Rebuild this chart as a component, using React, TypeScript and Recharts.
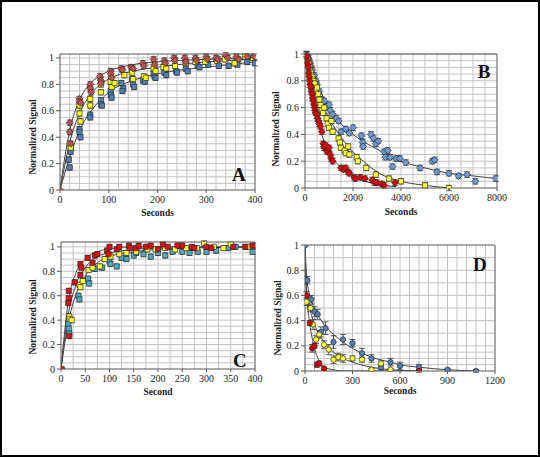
import {
  ComposedChart,
  Scatter,
  Line,
  XAxis,
  YAxis,
  ErrorBar,
  ReferenceLine,
  ReferenceDot,
} from "recharts";

type Pt = [number, number, number];
type Fp = [number, number];

// ---- Panel A (recovery, 0-400 s) ----
const aRed: Pt[] = [
  [0, 0, 0], [20, 0.51, 0.02], [20, 0.44, 0.02], [22, 0.35, 0.02], [40, 0.69, 0.02], [40, 0.67, 0.02],
  [42, 0.66, 0.02], [62, 0.8, 0.02], [62, 0.77, 0.02], [64, 0.74, 0.02], [82, 0.86, 0.02], [84, 0.83, 0.02],
  [84, 0.81, 0.02], [104, 0.9, 0.02], [104, 0.88, 0.02], [106, 0.85, 0.02], [126, 0.92, 0.02], [128, 0.91, 0.02],
  [146, 0.93, 0.02], [150, 0.92, 0.02], [170, 0.96, 0.02], [172, 0.94, 0.02], [192, 0.99, 0.02], [194, 0.95, 0.02],
  [214, 0.98, 0.02], [216, 0.96, 0.02], [234, 1.0, 0.02], [236, 0.98, 0.02], [256, 1.0, 0.02], [258, 0.97, 0.02],
  [278, 1.0, 0.02], [280, 0.98, 0.02], [300, 1.01, 0.02], [302, 0.99, 0.02], [320, 1.0, 0.02], [324, 0.99, 0.02],
  [340, 1.02, 0.02], [344, 1.0, 0.02], [362, 1.01, 0.02], [366, 0.99, 0.02], [384, 1.01, 0.02], [398, 1.01, 0.02],
];
const aYellow: Pt[] = [
  [20, 0.35, 0.02], [22, 0.32, 0.02], [40, 0.64, 0.02], [40, 0.58, 0.02], [42, 0.52, 0.02], [62, 0.69, 0.02],
  [62, 0.64, 0.02], [84, 0.8, 0.02], [84, 0.74, 0.02], [104, 0.82, 0.02], [106, 0.78, 0.02], [112, 0.81, 0.02],
  [132, 0.87, 0.02], [148, 0.89, 0.02], [150, 0.84, 0.02], [172, 0.86, 0.02], [176, 0.85, 0.02], [192, 0.92, 0.02],
  [196, 0.9, 0.02], [212, 0.93, 0.02], [218, 0.92, 0.02], [236, 0.94, 0.02], [258, 0.96, 0.02], [278, 0.97, 0.02],
  [298, 0.97, 0.02], [322, 0.98, 0.02], [338, 0.99, 0.02], [358, 0.96, 0.02], [380, 1.01, 0.02], [396, 1.0, 0.02],
];
const aBlue: Pt[] = [
  [18, 0.23, 0.02], [20, 0.17, 0.02], [22, 0.29, 0.02], [40, 0.46, 0.02], [40, 0.44, 0.02], [42, 0.4, 0.02],
  [62, 0.57, 0.02], [62, 0.55, 0.02], [84, 0.68, 0.02], [84, 0.65, 0.02], [86, 0.64, 0.02], [104, 0.75, 0.02],
  [104, 0.72, 0.02], [106, 0.7, 0.02], [126, 0.81, 0.02], [130, 0.77, 0.02], [128, 0.75, 0.02], [148, 0.84, 0.02],
  [150, 0.8, 0.02], [152, 0.78, 0.02], [170, 0.83, 0.02], [174, 0.82, 0.02], [192, 0.88, 0.02], [194, 0.86, 0.02],
  [196, 0.85, 0.02], [214, 0.89, 0.02], [218, 0.87, 0.02], [238, 0.9, 0.02], [240, 0.89, 0.02], [258, 0.92, 0.02],
  [262, 0.9, 0.02], [282, 0.94, 0.02], [286, 0.93, 0.02], [304, 0.95, 0.02], [326, 0.94, 0.02], [346, 0.94, 0.02],
  [364, 0.95, 0.02], [384, 0.97, 0.02], [400, 0.96, 0.02],
];
const aFitRed: Fp[] = [[0, 0], [10, 0.25], [20, 0.45], [40, 0.68], [60, 0.8], [80, 0.86], [100, 0.9], [150, 0.95], [200, 0.97], [300, 0.99], [400, 1.0]];
const aFitYellow: Fp[] = [[0, 0], [10, 0.19], [20, 0.36], [40, 0.58], [60, 0.71], [80, 0.79], [100, 0.84], [150, 0.9], [200, 0.93], [300, 0.97], [400, 0.99]];
const aFitBlue: Fp[] = [[0, 0], [10, 0.13], [20, 0.25], [40, 0.45], [60, 0.58], [80, 0.67], [100, 0.74], [150, 0.83], [200, 0.88], [300, 0.93], [400, 0.97]];

// ---- Panel B (decay, 0-8000 s) ----
const bRed: Pt[] = [
  [50, 1.0, 0.02], [80, 0.98, 0.02], [100, 0.95, 0.02], [120, 0.92, 0.02], [150, 0.9, 0.02], [160, 0.86, 0.02],
  [180, 0.83, 0.02], [200, 0.8, 0.02], [220, 0.77, 0.02], [250, 0.75, 0.02], [270, 0.72, 0.02], [300, 0.7, 0.02],
  [320, 0.67, 0.02], [350, 0.65, 0.02], [380, 0.62, 0.02], [400, 0.6, 0.02], [420, 0.58, 0.02], [450, 0.56, 0.02],
  [500, 0.55, 0.02], [520, 0.52, 0.02], [560, 0.5, 0.02], [600, 0.48, 0.02], [640, 0.46, 0.02], [700, 0.42, 0.02],
  [760, 0.33, 0.02], [800, 0.3, 0.02], [850, 0.32, 0.02], [900, 0.28, 0.02], [950, 0.27, 0.02], [1000, 0.3, 0.02],
  [1050, 0.25, 0.02], [1100, 0.22, 0.02], [1150, 0.2, 0.02], [1500, 0.15, 0.02], [1600, 0.14, 0.02], [1700, 0.15, 0.02],
  [1800, 0.12, 0.02], [1850, 0.11, 0.02], [2050, 0.08, 0.02], [2100, 0.07, 0.02], [2300, 0.08, 0.02], [2500, 0.07, 0.02],
  [2800, 0.06, 0.02], [2900, 0.04, 0.02], [3000, 0.04, 0.02], [3200, 0.03, 0.02], [3300, 0.02, 0.02], [3750, 0.04, 0.02],
];
const bYellow: Pt[] = [
  [60, 0.99, 0.02], [100, 0.96, 0.02], [150, 0.93, 0.02], [200, 0.9, 0.02], [250, 0.86, 0.02], [300, 0.83, 0.02],
  [350, 0.8, 0.02], [400, 0.78, 0.02], [450, 0.73, 0.02], [500, 0.75, 0.02], [550, 0.7, 0.02], [600, 0.66, 0.02],
  [650, 0.62, 0.02], [700, 0.58, 0.02], [750, 0.56, 0.02], [800, 0.6, 0.02], [900, 0.52, 0.02], [950, 0.48, 0.02],
  [1000, 0.45, 0.02], [1100, 0.5, 0.02], [1150, 0.42, 0.02], [1400, 0.37, 0.02], [1450, 0.34, 0.02], [1500, 0.3, 0.02],
  [1650, 0.28, 0.02], [1700, 0.26, 0.02], [1800, 0.31, 0.02], [1850, 0.25, 0.02], [2150, 0.23, 0.02], [2200, 0.2, 0.02],
  [2550, 0.15, 0.02], [2950, 0.1, 0.02], [3500, 0.07, 0.02], [4000, 0.05, 0.02], [5000, 0.02, 0.02], [6000, 0.0, 0.02],
];
const bBlue: Pt[] = [
  [80, 1.0, 0.02], [150, 0.97, 0.02], [200, 0.94, 0.02], [250, 0.91, 0.02], [300, 0.88, 0.02], [380, 0.84, 0.02],
  [450, 0.8, 0.02], [500, 0.77, 0.02], [600, 0.72, 0.02], [700, 0.66, 0.02], [800, 0.65, 0.02], [900, 0.6, 0.02],
  [1000, 0.62, 0.02], [1050, 0.58, 0.02], [1150, 0.55, 0.02], [1300, 0.52, 0.02], [1400, 0.5, 0.02], [1500, 0.42, 0.02],
  [1700, 0.44, 0.02], [1850, 0.41, 0.02], [2000, 0.45, 0.02], [2350, 0.39, 0.02], [2400, 0.34, 0.02], [2420, 0.31, 0.02],
  [2750, 0.4, 0.02], [2850, 0.37, 0.02], [2950, 0.33, 0.02], [3050, 0.35, 0.02], [3300, 0.27, 0.02], [3350, 0.23, 0.02],
  [3450, 0.28, 0.02], [3550, 0.23, 0.02], [3650, 0.16, 0.02], [3800, 0.22, 0.02], [3950, 0.22, 0.02], [4200, 0.19, 0.02],
  [4800, 0.15, 0.02], [5300, 0.2, 0.02], [5400, 0.21, 0.02], [5500, 0.12, 0.02], [6000, 0.11, 0.02], [6400, 0.09, 0.02],
  [6750, 0.1, 0.02], [7100, 0.05, 0.02], [7950, 0.07, 0.02],
];
const bFitRed: Fp[] = [[0, 1], [250, 0.72], [500, 0.52], [750, 0.37], [1000, 0.27], [1500, 0.15], [2000, 0.09], [2500, 0.05], [3000, 0.03], [3500, 0.015], [3800, 0.01]];
const bFitYellow: Fp[] = [[0, 1], [500, 0.72], [1000, 0.52], [1500, 0.38], [2000, 0.27], [2500, 0.19], [3000, 0.12], [4000, 0.05], [5000, 0.02], [6000, 0]];
const bFitBlue: Fp[] = [[0, 1], [500, 0.78], [1000, 0.6], [1500, 0.48], [2000, 0.4], [3000, 0.29], [4000, 0.2], [5000, 0.15], [6000, 0.11], [7000, 0.09], [8000, 0.07]];

// ---- Panel C (recovery, 0-400 s) ----
const cRed: Pt[] = [
  [2, 0, 0], [16, 0.64, 0.02], [16, 0.58, 0.02], [17, 0.27, 0.02], [15, 0.54, 0.02], [28, 0.71, 0.02],
  [40, 0.86, 0.02], [42, 0.83, 0.02], [40, 0.77, 0.02], [55, 0.91, 0.02], [65, 0.87, 0.02], [70, 0.93, 0.02],
  [75, 0.94, 0.02], [95, 0.97, 0.02], [98, 0.94, 0.02], [100, 1.0, 0.02], [115, 0.98, 0.02], [120, 1.0, 0.02],
  [140, 1.01, 0.02], [142, 0.99, 0.02], [155, 0.99, 0.02], [160, 1.01, 0.02], [175, 1.0, 0.02], [185, 1.01, 0.02],
  [200, 0.98, 0.02], [210, 1.02, 0.02], [220, 1.0, 0.02], [240, 1.01, 0.02], [250, 1.01, 0.02], [270, 1.0, 0.02],
  [275, 0.99, 0.02], [300, 1.0, 0.02], [310, 0.99, 0.02], [355, 1.0, 0.02], [380, 1.0, 0.02], [395, 1.01, 0.02],
];
const cYellow: Pt[] = [
  [17, 0.43, 0.02], [18, 0.41, 0.02], [22, 0.4, 0.02], [38, 0.69, 0.02], [40, 0.67, 0.02], [45, 0.72, 0.02],
  [57, 0.81, 0.02], [65, 0.83, 0.02], [80, 0.84, 0.02], [90, 0.9, 0.02], [102, 0.92, 0.02], [120, 0.94, 0.02],
  [135, 0.95, 0.02], [155, 0.96, 0.02], [178, 0.98, 0.02], [195, 0.98, 0.02], [215, 0.99, 0.02], [235, 0.98, 0.02],
  [258, 0.99, 0.02], [280, 0.99, 0.02], [295, 1.03, 0.02], [315, 1.0, 0.02], [335, 0.99, 0.02], [350, 1.02, 0.02],
  [385, 1.0, 0.02],
];
const cBlue: Pt[] = [
  [15, 0.37, 0.02], [16, 0.33, 0.02], [17, 0.29, 0.02], [36, 0.6, 0.02], [38, 0.57, 0.02], [56, 0.74, 0.02],
  [58, 0.7, 0.02], [70, 0.82, 0.02], [85, 0.83, 0.02], [100, 0.88, 0.02], [102, 0.86, 0.02], [115, 0.84, 0.02],
  [125, 0.91, 0.02], [135, 0.9, 0.02], [150, 0.93, 0.02], [155, 0.95, 0.02], [170, 0.94, 0.02], [185, 0.92, 0.02],
  [200, 0.95, 0.02], [215, 0.93, 0.02], [230, 0.96, 0.02], [250, 0.96, 0.02], [265, 0.95, 0.02], [282, 0.96, 0.02],
  [300, 0.96, 0.02], [320, 0.97, 0.02], [345, 0.99, 0.02], [360, 1.0, 0.02], [395, 0.96, 0.02],
];
const cFitRed: Fp[] = [[0, 0], [15, 0.55], [30, 0.78], [50, 0.9], [75, 0.96], [100, 0.985], [150, 1.0], [400, 1.0]];
const cFitYellow: Fp[] = [[0, 0], [15, 0.45], [30, 0.68], [50, 0.83], [75, 0.92], [100, 0.95], [150, 0.98], [200, 0.99], [400, 1.0]];
const cFitBlue: Fp[] = [[0, 0], [15, 0.38], [30, 0.6], [50, 0.76], [75, 0.87], [100, 0.92], [150, 0.96], [200, 0.98], [400, 1.0]];

// ---- Panel D (decay, 0-1200 s) ----
const dBlue: Pt[] = [
  [2, 1.0, 0], [15, 0.72, 0.03], [40, 0.57, 0.03], [60, 0.47, 0.04], [80, 0.45, 0.04], [100, 0.31, 0.04],
  [130, 0.34, 0.05], [180, 0.23, 0.05], [240, 0.25, 0.04], [300, 0.22, 0.03], [360, 0.14, 0.04], [420, 0.1, 0.03],
  [480, 0.03, 0.02], [540, 0.07, 0.03], [600, 0.04, 0.03], [720, 0.03, 0.02], [900, 0.01, 0.01], [1080, 0.0, 0.01],
];
const dYellow: Pt[] = [
  [10, 0.55, 0.03], [35, 0.5, 0.03], [50, 0.37, 0.04], [70, 0.25, 0.03], [90, 0.29, 0.03], [120, 0.21, 0.03],
  [150, 0.17, 0.04], [180, 0.09, 0.03], [210, 0.11, 0.03], [240, 0.1, 0.03], [300, 0.1, 0.02], [360, 0.09, 0.02],
  [420, 0.01, 0.01], [480, 0.06, 0.02], [540, 0.01, 0.01], [720, 0.0, 0.01],
];
const dRed: Pt[] = [
  [10, 0.6, 0.03], [30, 0.38, 0.02], [45, 0.18, 0.03], [60, 0.2, 0.02], [75, 0.05, 0.02], [90, 0.06, 0.02],
  [120, 0.02, 0.01], [720, 0.0, 0],
];
const dFitBlue: Fp[] = [[0, 1], [10, 0.75], [30, 0.6], [60, 0.5], [120, 0.37], [180, 0.29], [240, 0.23], [300, 0.18], [420, 0.11], [540, 0.07], [600, 0.05], [720, 0.03], [900, 0.01], [1080, 0]];
const dFitYellow: Fp[] = [[0, 1], [10, 0.65], [30, 0.5], [60, 0.37], [120, 0.23], [180, 0.15], [240, 0.1], [300, 0.07], [420, 0.03], [540, 0.01], [720, 0]];
const dFitRed: Fp[] = [[0, 1], [10, 0.62], [30, 0.38], [60, 0.18], [90, 0.08], [120, 0.03], [180, 0.01], [240, 0], [720, 0]];

// ---- ticks and grid ----
const yTicks = [0, 0.2, 0.4, 0.6, 0.8, 1];
const xTicksA = [0, 100, 200, 300, 400];
const xTicksB = [0, 2000, 4000, 6000, 8000];
const xTicksC = [0, 50, 100, 150, 200, 250, 300, 350, 400];
const xTicksD = [0, 300, 600, 900, 1200];
const xGridA = [20, 40, 60, 80, 100, 120, 140, 160, 180, 200, 220, 240, 260, 280, 300, 320, 340, 360, 380];
const xGridB = [500, 1000, 1500, 2000, 2500, 3000, 3500, 4000, 4500, 5000, 5500, 6000, 6500, 7000, 7500];
const xGridC = [25, 50, 75, 100, 125, 150, 175, 200, 225, 250, 275, 300, 325, 350, 375];
const xGridD = [60, 120, 180, 240, 300, 360, 420, 480, 540, 600, 660, 720, 780, 840, 900, 960, 1020, 1080, 1140];
const yGrid = [0.05, 0.1, 0.15, 0.2, 0.25, 0.3, 0.35, 0.4, 0.45, 0.5, 0.55, 0.6, 0.65, 0.7, 0.75, 0.8, 0.85, 0.9, 0.95, 1];
const yGridD = [0.05, 0.1, 0.15, 0.2, 0.3, 0.4, 0.5, 0.6, 0.7, 0.8, 0.9];

const serif = "Liberation Serif";

const toPts = (a: Pt[]) => a.map(([x, y, err]) => ({ x, y, err }));
const toFit = (a: Fp[]) => a.map(([x, y]) => ({ x, y }));

// tick text drawn by hand so the serif face is kept
const XTick = (props: any) => (
  <text x={props.x} y={props.y} dy="0.75em" textAnchor="middle" fontFamily={serif} fontSize={10} fill="#222">
    {props.payload.value}
  </text>
);
const YTick = (props: any) => (
  <text x={props.x} y={props.y} dy="0.35em" textAnchor="end" fontFamily={serif} fontSize={10} fill="#222">
    {props.payload.value}
  </text>
);

const marker = (kind: string, fill: string) => (props: any) => {
  const { cx, cy } = props;
  if (cx == null || cy == null) return <g />;
  if (kind === "diamond")
    return (
      <polygon
        points={`${cx},${cy - 3.5} ${cx + 3.5},${cy} ${cx},${cy + 3.5} ${cx - 3.5},${cy}`}
        fill={fill}
        stroke="#2a2a2a"
        strokeWidth={0.7}
      />
    );
  if (kind === "square")
    return <rect x={cx - 2.6} y={cy - 2.6} width={5.2} height={5.2} rx={1} fill={fill} stroke="#2a2a2a" strokeWidth={0.7} />;
  return <circle cx={cx} cy={cy} r={2.7} fill={fill} stroke="#2a2a2a" strokeWidth={0.7} />;
};

interface Series {
  data: Pt[];
  fill: string;
  kind: string;
}

interface PanelProps {
  left: number;
  top: number;
  w: number;
  h: number;
  xMax: number;
  yMax: number;
  xTicks: number[];
  xGrid: number[];
  yGrid: number[];
  series: Series[];
  fits: Fp[][];
  letter: string;
  letterAt: [number, number];
  xLabel: string;
  xLabelY: number;
  yLabelX: number;
  yLabelY: number;
}

function Panel(p: PanelProps) {
  const ox = p.left - 45;
  const oy = p.top - 10;
  return (
    <div style={{ position: "absolute", left: ox, top: oy, fontFamily: serif }}>
      <ComposedChart width={45 + p.w + 14} height={10 + p.h + 32} margin={{ top: 10, right: 14, left: 0, bottom: 0 }}>
        <XAxis
          type="number"
          dataKey="x"
          domain={[0, p.xMax]}
          ticks={p.xTicks}
          interval={0}
          allowDataOverflow
          height={32}
          tickSize={3}
          tick={XTick}
          axisLine={{ stroke: "#555" }}
          tickLine={{ stroke: "#555" }}
          label={{
            value: p.xLabel,
            content: () => (
              <text
                x={p.left + p.w / 2 - ox}
                y={p.xLabelY - oy}
                textAnchor="middle"
                dominantBaseline="central"
                fontFamily={serif}
                fontWeight="bold"
                fontSize={9.5}
                fill="#222"
              >
                {p.xLabel}
              </text>
            ),
          }}
        />
        <YAxis
          type="number"
          dataKey="y"
          domain={[0, p.yMax]}
          ticks={yTicks}
          interval={0}
          allowDataOverflow
          width={45}
          tickSize={4}
          tick={YTick}
          axisLine={{ stroke: "#555" }}
          tickLine={{ stroke: "#555" }}
          label={{
            value: "Normalized Signal",
            content: () => {
              const cx = p.yLabelX - ox;
              const cy = p.yLabelY - oy;
              return (
                <text
                  x={cx}
                  y={cy}
                  transform={`rotate(-90 ${cx} ${cy})`}
                  textAnchor="middle"
                  dominantBaseline="central"
                  fontFamily={serif}
                  fontWeight="bold"
                  fontSize={9.5}
                  fill="#222"
                >
                  Normalized Signal
                </text>
              );
            },
          }}
        />
        {p.xGrid.map((v) => (
          <ReferenceLine key={"gx" + v} x={v} stroke="#c2c2c2" strokeWidth={1} />
        ))}
        {p.yGrid.map((v) => (
          <ReferenceLine key={"gy" + v} y={v} stroke="#c2c2c2" strokeWidth={1} />
        ))}
        <ReferenceLine x={p.xMax} stroke="#555" />
        <ReferenceLine y={p.yMax} stroke="#555" />
        {p.fits.map((f, i) => (
          <Line
            key={"fit" + i}
            data={toFit(f)}
            dataKey="y"
            type="monotone"
            stroke="#444"
            strokeWidth={1}
            dot={false}
            activeDot={false}
            isAnimationActive={false}
          />
        ))}
        {p.series.map((s, i) => (
          <Scatter
            key={"s" + i}
            data={toPts(s.data)}
            dataKey="y"
            fill={s.fill}
            shape={marker(s.kind, s.fill)}
            isAnimationActive={false}
          >
            <ErrorBar dataKey="err" direction="y" width={3} stroke="#333" strokeWidth={0.8} isAnimationActive={false} />
          </Scatter>
        ))}
        <ReferenceDot
          x={p.letterAt[0]}
          y={p.letterAt[1]}
          r={1}
          fill="none"
          stroke="none"
          label={{ value: p.letter, position: "center", fontSize: 19, fontWeight: "bold", fill: "#111", fontFamily: serif }}
        />
      </ComposedChart>
    </div>
  );
}

export default function App() {
  return (
    <div style={{ position: "absolute", left: 0, top: 0, width: 540, height: 457, background: "#fff", fontFamily: serif }}>
      <div
        style={{
          position: "absolute",
          left: 0,
          top: 0,
          width: 540,
          height: 457,
          border: "2px solid #000",
          boxSizing: "border-box",
        }}
      />
      <Panel
        left={60}
        top={54}
        w={195}
        h={136}
        xMax={400}
        yMax={1.03}
        xTicks={xTicksA}
        xGrid={xGridA}
        yGrid={yGrid}
        series={[
          { data: aBlue, fill: "#4f81bd", kind: "square" },
          { data: aYellow, fill: "#ffff00", kind: "square" },
          { data: aRed, fill: "#c0504d", kind: "diamond" },
        ]}
        fits={[aFitRed, aFitYellow, aFitBlue]}
        letter="A"
        letterAt={[367, 0.12]}
        xLabel="Seconds"
        xLabelY={213}
        yLabelX={33}
        yLabelY={137}
      />
      <Panel
        left={305}
        top={54}
        w={192}
        h={134}
        xMax={8000}
        yMax={1}
        xTicks={xTicksB}
        xGrid={xGridB}
        yGrid={yGrid}
        series={[
          { data: bBlue, fill: "#6a9ad6", kind: "diamond" },
          { data: bYellow, fill: "#ffff33", kind: "square" },
          { data: bRed, fill: "#e00000", kind: "diamond" },
        ]}
        fits={[bFitRed, bFitYellow, bFitBlue]}
        letter="B"
        letterAt={[7460, 0.87]}
        xLabel="Seconds"
        xLabelY={212}
        yLabelX={276}
        yLabelY={129}
      />
      <Panel
        left={61}
        top={242}
        w={194}
        h={127}
        xMax={400}
        yMax={1.04}
        xTicks={xTicksC}
        xGrid={xGridC}
        yGrid={yGrid}
        series={[
          { data: cBlue, fill: "#4bacc6", kind: "square" },
          { data: cYellow, fill: "#ffff33", kind: "square" },
          { data: cRed, fill: "#e01010", kind: "square" },
        ]}
        fits={[cFitRed, cFitYellow, cFitBlue]}
        letter="C"
        letterAt={[369, 0.07]}
        xLabel="Second"
        xLabelY={392}
        yLabelX={33}
        yLabelY={317}
      />
      <Panel
        left={305}
        top={245}
        w={190}
        h={126}
        xMax={1200}
        yMax={1}
        xTicks={xTicksD}
        xGrid={xGridD}
        yGrid={yGridD}
        series={[
          { data: dBlue, fill: "#4f81bd", kind: "circle" },
          { data: dYellow, fill: "#ffff33", kind: "circle" },
          { data: dRed, fill: "#e00000", kind: "circle" },
        ]}
        fits={[dFitRed, dFitYellow, dFitBlue]}
        letter="D"
        letterAt={[1105, 0.85]}
        xLabel="Seconds"
        xLabelY={391}
        yLabelX={278}
        yLabelY={318}
      />
    </div>
  );
}
